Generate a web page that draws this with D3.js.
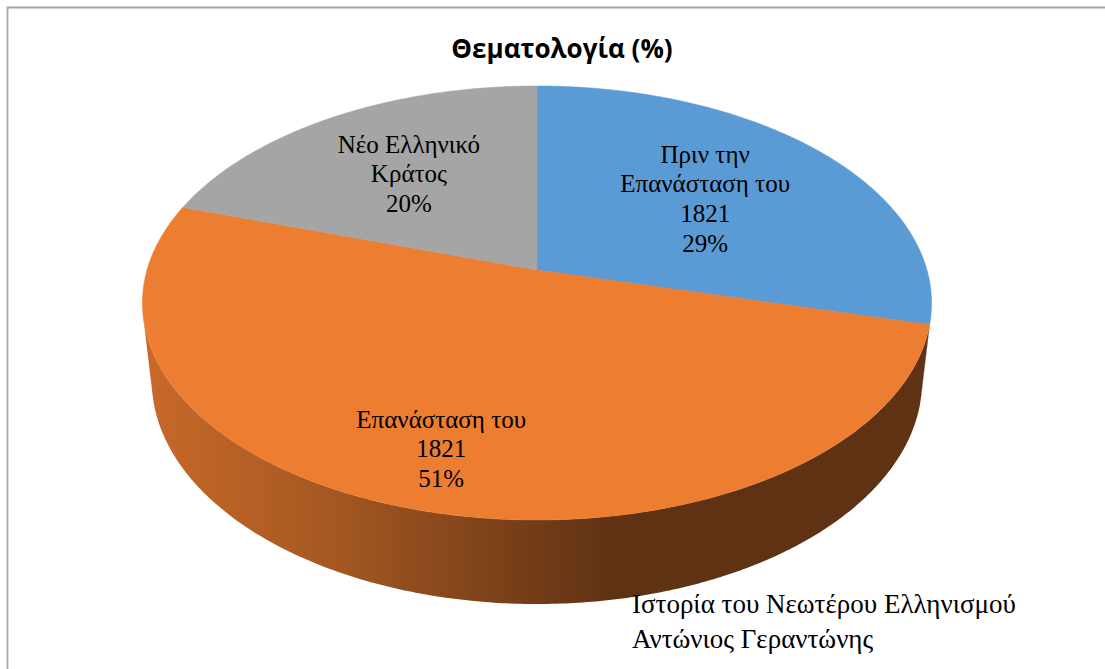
<!DOCTYPE html>
<html>
<head>
<meta charset="utf-8">
<script src="https://cdn.jsdelivr.net/npm/d3@7"></script>
<style>
html,body{margin:0;padding:0;background:#fff;}
svg{display:block;}
</style>
</head>
<body>
<svg id="chart" width="1105" height="669"></svg>
<script>
// ---------------- data ----------------
const chartTitle = "Θεματολογία (%)";
const categories = ["Πριν την Επανάσταση του 1821", "Επανάσταση του 1821", "Νέο Ελληνικό Κράτος"];
const labelLines = [["Πριν την", "Επανάσταση του", "1821"], ["Επανάσταση του", "1821"], ["Νέο Ελληνικό", "Κράτος"]];
const values = [29, 51, 20];
const colors = ["#5b9bd5", "#ed7d31", "#a5a5a5"];
const sourceLines = ["Ιστορία του Νεωτέρου Ελληνισμού", "Αντώνιος Γεραντώνης"];

// ---------------- layout / style ----------------
const W = 1105, H = 669;
const svg = d3.select("#chart");
const cx = 537, cy = 270;          // projected pie centre
const A = 390;                     // horizontal scale
const K = 0.152;                   // perspective factor
const sinA = 212 / 390, cosA = Math.sqrt(1 - sinA * sinA);
const Dist = cosA / K, F = A * Dist;
const depthH = 0.242;              // pie thickness relative to radius
const labelR = [0.575, 0.78, 0.60];

function project(phi, r, yw) {
  const u = r * Math.sin(phi), v = r * Math.cos(phi);
  const depth = Dist - yw * sinA + v * cosA;
  return [cx + F * u / depth, cy - F * (yw * cosA + v * sinA) / depth];
}

const color = d3.scaleOrdinal().domain(categories).range(colors);
const pie = d3.pie().sort(null).value(d => d.value).startAngle(0).endAngle(2 * Math.PI);
const data = categories.map((c, i) => ({ cat: c, value: values[i], lines: labelLines[i], idx: i }));
const arcs = pie(data);
const total = d3.sum(values);

// border
svg.append("path")
  .attr("d", `M7.5,${H} V7.5 H${W}`)
  .attr("fill", "none").attr("stroke", "#a6a6a6").attr("stroke-width", 1.8);

// title
svg.append("text")
  .attr("x", 562).attr("y", 58)
  .attr("text-anchor", "middle")
  .attr("font-family", "'Open Sans', 'Noto Sans', sans-serif")
  .attr("font-weight", "bold").attr("font-size", 26)
  .attr("fill", "#000")
  .text(chartTitle);

const line = d3.line();
function sample(a0, a1, r, yw) {
  const n = Math.max(2, Math.ceil(Math.abs(a1 - a0) / 0.01));
  const pts = [];
  for (let i = 0; i <= n; i++) pts.push(project(a0 + (a1 - a0) * i / n, r, yw));
  return pts;
}

// visible side range
const cosLim = -1 / (Dist * cosA);
const vis0 = Math.acos(cosLim), vis1 = 2 * Math.PI - vis0;

const defs = svg.append("defs");
const xL = project(1.5 * Math.PI, 1, 0)[0], xR = project(0.5 * Math.PI, 1, 0)[0];
const shadeStops = [[145, 0.84], [330, 0.70], [500, 0.52], [615, 0.40], [930, 0.40]];

const sideG = svg.append("g");
arcs.forEach((d, i) => {
  const s = Math.max(d.startAngle, vis0), e = Math.min(d.endAngle, vis1);
  if (e <= s) return;
  const gid = "side" + i;
  const grad = defs.append("linearGradient").attr("id", gid)
    .attr("gradientUnits", "userSpaceOnUse")
    .attr("x1", xL).attr("x2", xR).attr("y1", 0).attr("y2", 0);
  const base = d3.rgb(color(d.data.cat));
  shadeStops.forEach(([x, f]) => {
    grad.append("stop")
      .attr("offset", (x - xL) / (xR - xL))
      .attr("stop-color", d3.rgb(base.r * f, base.g * f, base.b * f).formatHex());
  });
  const top = sample(s, e, 1, 0);
  const bot = sample(e, s, 1, -depthH);
  sideG.append("path")
    .attr("d", line(top.concat(bot)) + "Z")
    .attr("fill", `url(#${gid})`);
});

// top face
const topG = svg.append("g");
arcs.forEach(d => {
  const pts = [project(0, 0, 0)].concat(sample(d.startAngle, d.endAngle, 1, 0));
  topG.append("path")
    .attr("d", line(pts) + "Z")
    .attr("fill", color(d.data.cat))
    .attr("stroke", color(d.data.cat)).attr("stroke-width", 0.5);
});

// labels
const fmt = d3.format(".0%");
const fs = 25, lh = 29.7;
arcs.forEach(d => {
  const mid = (d.startAngle + d.endAngle) / 2;
  const [lx, ly] = project(mid, labelR[d.data.idx], 0);
  const lines = d.data.lines.concat([fmt(d.data.value / total)]);
  const t = svg.append("text")
    .attr("text-anchor", "middle")
    .attr("font-family", "'Liberation Serif', 'Times New Roman', serif")
    .attr("font-size", fs).attr("fill", "#000");
  lines.forEach((ln, j) => {
    t.append("tspan").attr("x", lx)
      .attr("y", ly + (j - (lines.length - 1) / 2) * lh + 0.33 * fs)
      .text(ln);
  });
});

// source note
const src = svg.append("text")
  .attr("font-family", "'Liberation Serif', 'Times New Roman', serif")
  .attr("font-size", 27).attr("fill", "#000");
sourceLines.forEach((ln, j) => {
  src.append("tspan").attr("x", 632).attr("y", 613 + j * 35).text(ln);
});
</script>
</body>
</html>
